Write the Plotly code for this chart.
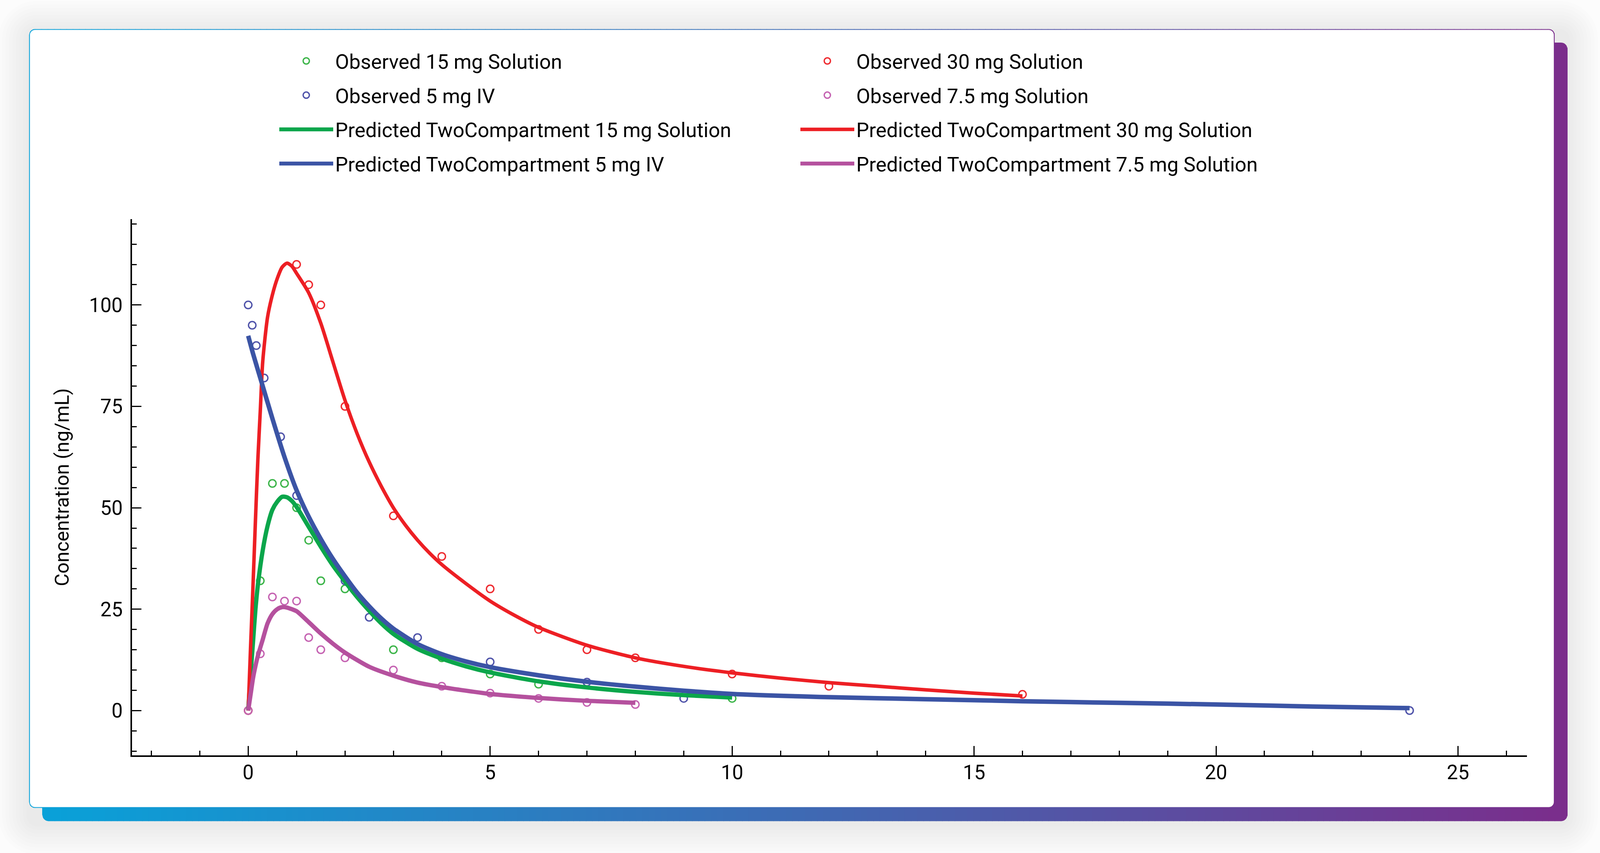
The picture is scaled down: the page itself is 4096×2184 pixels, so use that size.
import numpy as np
import plotly.graph_objects as go

# ---------------- data ----------------
# Observed concentrations (ng/mL) vs time (h)
t_obs_15 = [0, 0.25, 0.5, 0.75, 1, 1.25, 1.5, 2, 3, 4, 5, 6, 10]
c_obs_15 = [0, 32, 56, 56, 50, 42, 32, 30, 15, 13, 9, 6.5, 3]

t_obs_30 = [0, 1, 1.25, 1.5, 2, 3, 4, 5, 6, 7, 8, 10, 12, 16]
c_obs_30 = [0, 110, 105, 100, 75, 48, 38, 30, 20, 15, 13, 9, 6, 4]

t_obs_iv = [0, 0.083, 0.167, 0.33, 0.67, 1, 2, 2.5, 3.5, 5, 7, 9, 24]
c_obs_iv = [100, 95, 90, 82, 67.5, 53, 32, 23, 18, 12, 7, 3, 0]

t_obs_75 = [0, 0.25, 0.5, 0.75, 1, 1.25, 1.5, 2, 3, 4, 5, 6, 7, 8]
c_obs_75 = [0, 14, 28, 27, 27, 18, 15, 13, 10, 6, 4.3, 3, 2, 1.5]

# Predicted two-compartment curves
t_pred_15 = [0, 0.05, 0.1, 0.15, 0.2, 0.3, 0.4, 0.5, 0.6, 0.7, 0.8, 0.9, 1.0,
             1.25, 1.5, 1.75, 2.0, 2.25, 2.5, 2.75, 3.0, 3.5, 4.0, 4.5, 5, 6, 7, 8, 9, 10]
c_pred_15 = [0, 9, 17, 25, 31, 39.5, 45.5, 49.5, 51.5, 52.7, 52.6, 51.7, 50.2,
             45.3, 40.4, 35.8, 31.8, 28, 24.6, 21.5, 18.9, 15.2, 12.8, 10.9, 9.4, 7.2, 5.7, 4.6, 3.8, 3.2]

t_pred_30 = [0, 0.05, 0.1, 0.15, 0.2, 0.25, 0.3, 0.4, 0.5, 0.6, 0.7, 0.8, 0.9, 1.0,
             1.25, 1.5, 1.75, 2.0, 2.25, 2.5, 2.75, 3.0, 3.25, 3.5, 3.75, 4.0, 4.5, 5,
             5.5, 6, 7, 8, 9, 10, 11, 12, 13, 14, 15, 16]
c_pred_30 = [0, 16, 31, 47, 62, 74, 86, 97, 102.5, 106.5, 109.3, 110.3, 109.6, 107.8,
             103, 95.5, 86, 76.5, 68.3, 61.3, 55.3, 50, 45.7, 42, 38.8, 36, 31.3, 27,
             23.5, 20.5, 16.1, 13, 10.9, 9.3, 8, 6.9, 6, 5.1, 4.3, 3.6]

t_pred_iv = [0, 0.1, 0.25, 0.5, 0.75, 1.0, 1.25, 1.5, 1.75, 2.0, 2.25, 2.5, 2.75, 3.0,
             3.5, 4.0, 4.5, 5, 6, 7, 8, 9, 10, 12, 14, 16, 18, 20, 22, 24]
c_pred_iv = [92.4, 88, 82, 72, 62.5, 54.3, 47.8, 42.3, 37.4, 33.1, 29.1, 25.7, 22.7, 20.2,
             16.4, 13.9, 12.1, 10.7, 8.7, 7.1, 5.9, 4.9, 4.1, 3.3, 2.8, 2.3, 1.9, 1.5, 1.0, 0.6]

t_pred_75 = [0, 0.05, 0.1, 0.15, 0.2, 0.3, 0.4, 0.5, 0.6, 0.7, 0.8, 0.9, 1.0,
             1.25, 1.5, 1.75, 2.0, 2.5, 3.0, 3.5, 4.0, 5, 6, 7, 8]
c_pred_75 = [0, 4, 8, 11, 13.5, 17.5, 21.5, 23.8, 25, 25.5, 25.4, 25, 24.5,
             21.8, 19, 16.5, 14.3, 10.8, 8.6, 6.9, 5.8, 4.1, 3.1, 2.4, 1.9]

x_tick_vals = [0, 5, 10, 15, 20, 25]
y_tick_vals = [0, 25, 50, 75, 100]

# ---------------- styling ----------------
FONT = "Roboto"
COL_OBS = {"15": "#3db54a", "30": "#ee2b30", "iv": "#5054aa", "75": "#c563b2"}
COL_PRED = {"15": "#0ba64b", "30": "#ed1f24", "iv": "#3b54a5", "75": "#b5519e"}

W, H = 4096, 2184
ML, MR, MT, MB = 338, 187, 561, 250
PW = W - ML - MR
PH = H - MT - MB


def to_paper(px, py):
    return (px - ML) / PW, (H - MB - py) / PH


# gradient (left cyan-blue -> right purple)
G_L, G_R = 74.0, 4013.0
STOPS = [(0.0, (8, 162, 217)), (0.5, (62, 106, 180)), (1.0, (123, 45, 139))]


def grad_color(px):
    f = min(max((px - G_L) / (G_R - G_L), 0), 1)
    for (f0, c0), (f1, c1) in zip(STOPS[:-1], STOPS[1:]):
        if f <= f1:
            u = (f - f0) / (f1 - f0)
            c = [round(a + (b - a) * u) for a, b in zip(c0, c1)]
            return "rgb(%d,%d,%d)" % tuple(c)
    return "rgb(%d,%d,%d)" % STOPS[-1][1]


def rr_edges(x, L, R, T, B, r):
    if x < L + r:
        dx = L + r - x
    elif x > R - r:
        dx = x - (R - r)
    else:
        return T, B
    dy = r - np.sqrt(max(r * r - dx * dx, 0.0))
    return T + dy, B - dy


def path_from_px(pts):
    s = []
    for i, (x, y) in enumerate(pts):
        a, b = to_paper(x, y)
        s.append(("M" if i == 0 else "L") + "%.6f,%.6f" % (a, b))
    return " ".join(s) + " Z"


def rrect_path(L, R, T, B, r, n=8):
    pts = []

    def arc(cx, cy, a0, a1):
        for k in range(n + 1):
            a = a0 + (a1 - a0) * k / n
            pts.append((cx + r * np.cos(a), cy + r * np.sin(a)))
    arc(L + r, T + r, np.pi, 1.5 * np.pi)
    arc(R - r, T + r, 1.5 * np.pi, 2 * np.pi)
    arc(R - r, B - r, 0, 0.5 * np.pi)
    arc(L + r, B - r, 0.5 * np.pi, np.pi)
    return path_from_px(pts)


def gradient_strips(L, R, T, B, r, step=16):
    out = []
    x0 = L
    while x0 < R - 0.01:
        x1 = min(x0 + step, R)
        xe = min(x1 + 1.0, R)
        near = (x0 < L + r) or (xe > R - r)
        xs = np.linspace(x0, xe, 9) if near else [x0, xe]
        top = [(x, rr_edges(x, L, R, T, B, r)[0]) for x in xs]
        bot = [(x, rr_edges(x, L, R, T, B, r)[1]) for x in xs[::-1]]
        out.append(dict(type="path", xref="paper", yref="paper",
                        path=path_from_px(top + bot),
                        fillcolor=grad_color((x0 + x1) / 2),
                        line=dict(width=0), layer="below"))
        x0 = x1
    return out


shapes = []
# soft drop shadow
for k in range(9):
    e = 6 + k * 9
    shapes.append(dict(type="path", xref="paper", yref="paper",
                       path=rrect_path(74 - e, 4013 + e, 74 - e + 6, 2102 + e + 8, 20 + e),
                       fillcolor="rgba(0,0,0,0.0075)", line=dict(width=0), layer="below"))
# offset gradient card (visible as right and bottom band)
shapes += gradient_strips(108, 4013, 109, 2102.5, 17)
# card border gradient
shapes += gradient_strips(74.4, 3980, 74.4, 2068.6, 15)
# white card
shapes.append(dict(type="path", xref="paper", yref="paper",
                   path=rrect_path(76.6, 3977.8, 76.6, 2066.4, 13),
                   fillcolor="white", line=dict(width=0), layer="below"))

fig = go.Figure()

obs = [("15", t_obs_15, c_obs_15, "Observed 15 mg Solution", "legend"),
       ("30", t_obs_30, c_obs_30, "Observed 30 mg Solution", "legend2"),
       ("iv", t_obs_iv, c_obs_iv, "Observed 5 mg IV", "legend"),
       ("75", t_obs_75, c_obs_75, "Observed 7.5 mg Solution", "legend2")]
for key, t, c, name, lg in obs:
    fig.add_trace(go.Scatter(
        x=t, y=c, mode="markers", name=name, legend=lg, legendgroup=name,
        marker=dict(symbol="circle-open", size=19, color=COL_OBS[key],
                    line=dict(width=3.5, color=COL_OBS[key]))))

pred = [("15", t_pred_15, c_pred_15, "Predicted TwoCompartment 15 mg Solution", "legend", 11),
        ("30", t_pred_30, c_pred_30, "Predicted TwoCompartment 30 mg Solution", "legend2", 9),
        ("iv", t_pred_iv, c_pred_iv, "Predicted TwoCompartment 5 mg IV", "legend", 11.5),
        ("75", t_pred_75, c_pred_75, "Predicted TwoCompartment 7.5 mg Solution", "legend2", 11)]
for key, t, c, name, lg, lw in pred:
    fig.add_trace(go.Scatter(
        x=t, y=c, mode="lines", name=name, legend=lg, legendgroup=name,
        line=dict(color=COL_PRED[key], width=lw, shape="spline", smoothing=0.7)))

legend_common = dict(xanchor="left", yanchor="top", orientation="v",
                     bgcolor="rgba(0,0,0,0)", borderwidth=0,
                     font=dict(family=FONT, size=52, color="black"),
                     itemwidth=138, tracegroupgap=17, traceorder="grouped")
lx1, ly = to_paper(710, 115.7)
lx2, _ = to_paper(2044, 115.7)

fig.update_layout(
    width=W, height=H,
    margin=dict(l=ML, r=MR, t=MT, b=MB, autoexpand=False),
    paper_bgcolor="#fcfcfc", plot_bgcolor="rgba(0,0,0,0)",
    shapes=shapes, showlegend=True,
    legend=dict(x=lx1, y=ly, **legend_common),
    legend2=dict(x=lx2, y=ly, **legend_common),
    font=dict(family=FONT, color="black"),
)

fig.update_xaxes(
    range=[-2.4007, 26.425], showgrid=False, zeroline=False,
    showline=True, linecolor="black", linewidth=3.5,
    ticks="inside", ticklen=24, tickwidth=2.5, tickcolor="black",
    tickmode="array", tickvals=x_tick_vals, ticktext=[str(v) for v in x_tick_vals],
    tickfont=dict(family=FONT, size=51, color="black"), ticklabelstandoff=-4,
    minor=dict(dtick=1, tick0=0, ticks="inside", ticklen=12, tickwidth=2.5,
               tickcolor="black", showgrid=False),
)
fig.update_yaxes(
    range=[-11.045, 121.17], showgrid=False, zeroline=False,
    showline=True, linecolor="black", linewidth=3.5,
    ticks="inside", ticklen=24, tickwidth=2.5, tickcolor="black",
    tickmode="array", tickvals=y_tick_vals, ticktext=[str(v) for v in y_tick_vals],
    tickfont=dict(family=FONT, size=51, color="black"), ticklabelstandoff=10,
    minor=dict(dtick=5, tick0=0, ticks="inside", ticklen=12, tickwidth=2.5,
               tickcolor="black", showgrid=False),
    title=dict(text="Concentration (ng/mL)", standoff=37,
               font=dict(family=FONT, size=50, color="black")),
)

fig.write_html("out.html", config={"displayModeBar": False},
               post_script="document.body.style.margin='0';document.body.style.overflow='hidden';")
